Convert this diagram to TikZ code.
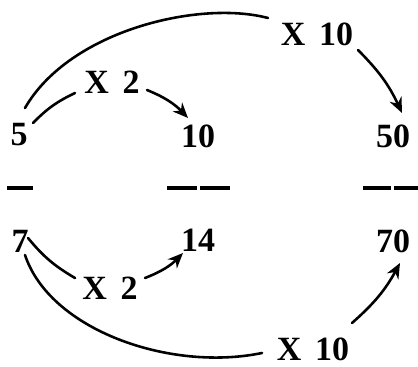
\documentclass[tikz,border=0pt]{standalone}
\usepackage{fontspec}
\setmainfont{Liberation Serif}
\usetikzlibrary{arrows.meta}

\begin{document}
\begin{tikzpicture}[
    x=0.03cm, y=-0.03cm,
    num/.style = {
        inner sep=1pt,
        font=\fontsize{29}{33}\selectfont\bfseries
    },
    op/.style = {
        inner sep=1pt,
        font={\fontsize{29}{33}\selectfont\bfseries\spaceskip 0.4em\relax}
    },
    link/.style = {
        line width=2.2pt,
        line cap=round
    },
    arrowlink/.style = {
        link,
        -{Stealth[length=13pt,width=11pt]}
    },
    barstyle/.style = {
        line width=3.2pt
    }
]
\useasboundingbox (0,0) rectangle (418,367);

% --- Nombres ---
\node[num] (n5)  at (19,135)  {5};
\node[num] (n10) at (198,136) {10};
\node[num] (n50) at (393,136) {50};
\node[num] (n7)  at (20,241)  {7};
\node[num] (n14) at (198,240) {14};
\node[num] (n70) at (393,241) {70};

% --- Multiplicateurs ---
\node[op] (topTwo) at (112,82)  {X 2};
\node[op] (topTen) at (317,34)  {X 10};
\node[op] (botTwo) at (110,288) {X 2};
\node[op] (botTen) at (313,349) {X 10};

% --- Barres de fraction ---
\draw[barstyle] (7,188) -- (33,188);
\draw[barstyle] (167,188) -- (197,188);
\draw[barstyle] (200,188) -- (230,188);
\draw[barstyle] (363,188) -- (391,188);
\draw[barstyle] (394,188) -- (418,188);

% --- Ligne du haut ---
\draw[link] ([shift={(14,-12)}]n5.center) to[bend left=10]
    ([shift={(-37,11)}]topTwo.center);
\draw[arrowlink] ([shift={(35,8)}]topTwo.center) to[bend left=12]
    ([shift={(-10,-18)}]n10.center);
\draw[link] ([shift={(6,-27)}]n5.center)
    .. controls (70,30) and (200,0) .. ([shift={(-49,-16)}]topTen.center);
\draw[arrowlink] ([shift={(41,16)}]topTen.center) to[bend left=10]
    ([shift={(9,-23)}]n50.center);

% --- Ligne du bas ---
\draw[link] ([shift={(8,-3)}]n7.center) to[bend right=10]
    ([shift={(-35,-10)}]botTwo.center);
\draw[arrowlink] ([shift={(35,-10)}]botTwo.center) to[bend right=12]
    ([shift={(-15,13)}]n14.center);
\draw[link] ([shift={(5,14)}]n7.center)
    .. controls (50,330) and (170,372) .. ([shift={(-51,4)}]botTen.center);
\draw[arrowlink] ([shift={(39,-26)}]botTen.center) to[bend right=10]
    ([shift={(7,22)}]n70.center);

\end{tikzpicture}
\end{document}
